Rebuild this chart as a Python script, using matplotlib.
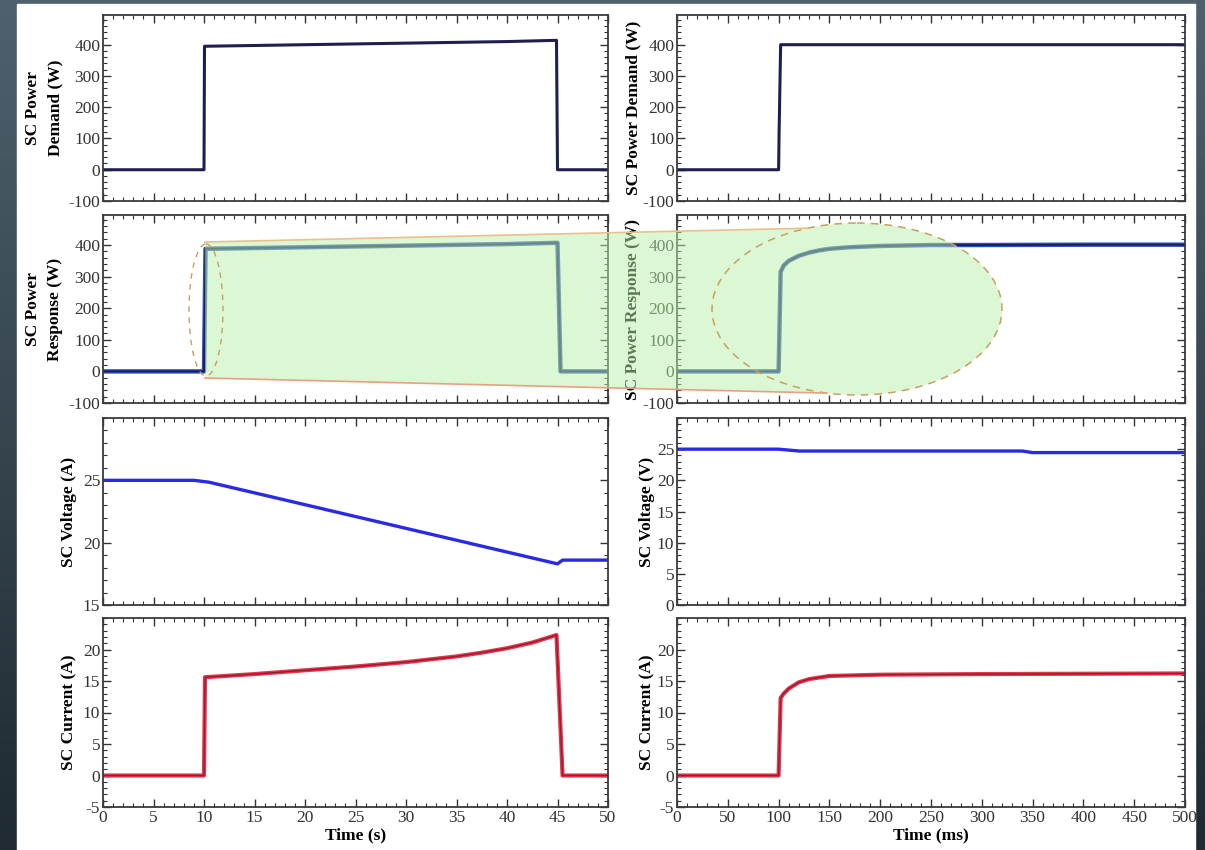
import matplotlib
matplotlib.use("Agg")
import matplotlib.pyplot as plt
import numpy as np
from matplotlib.patches import Ellipse, Polygon, Rectangle
from matplotlib.ticker import MultipleLocator

plt.rcParams["font.family"] = ["Liberation Serif", "DejaVu Serif"]
plt.rcParams["axes.unicode_minus"] = False

# left column: long run, time in s
t_dem_s = [0, 10, 10.05, 20, 30, 40, 44.9, 45.0, 50]
p_dem_s = [0, 0, 395, 400, 405, 410, 414, 0, 0]

t_resp_s = [0, 10, 10.15, 20, 30, 40, 45.0, 45.3, 50]
p_resp_s = [0, 0, 388, 393, 398, 403, 407, 0, 0]

t_volt_s = [0, 9, 10.5, 45.0, 45.5, 50]
v_volt_s = [25, 25, 24.85, 18.3, 18.6, 18.6]

t_curr_s = [0, 10, 10.1, 15, 20, 25, 30, 35, 37.5, 40, 42.5, 44.9, 45.5, 50]
i_curr_s = [0, 0, 15.6, 16.1, 16.7, 17.3, 18.0, 18.9, 19.5, 20.2, 21.1, 22.3, 0, 0]

# right column: zoom on the step, time in ms
t_dem_ms = [0, 100, 100.5, 102, 500]
p_dem_ms = [0, 0, 120, 400, 400]

t_resp_ms = [0, 100, 102, 105, 110, 120, 130, 140, 150, 170, 200, 250, 300, 400, 500]
p_resp_ms = [0, 0, 315, 335, 350, 366, 376, 383, 388, 393, 397, 400, 400, 401, 401]

t_volt_ms = [0, 100, 120, 340, 350, 500]
v_volt_ms = [25, 25, 24.7, 24.7, 24.45, 24.45]

t_curr_ms = [0, 100, 102, 105, 110, 120, 130, 150, 200, 300, 500]
i_curr_ms = [0, 0, 12.3, 13.0, 13.8, 14.8, 15.3, 15.8, 16.0, 16.1, 16.2]

W, H = 1205, 850
fig = plt.figure(figsize=(W / 100, H / 100), dpi=100)

# slide background
bg = fig.add_axes([0, 0, 1, 1], zorder=-5)
grad = np.linspace(0, 1, 256).reshape(-1, 1)
bg.imshow(grad, extent=[0, W, H, 0], aspect="auto",
          cmap=matplotlib.colors.LinearSegmentedColormap.from_list("s", ["#4e616d", "#1f2a31"]))
bg.add_patch(Rectangle((17, 4), 1178, 846, color="white"))
bg.set_xlim(0, W)
bg.set_ylim(H, 0)
bg.axis("off")


def px_axes(x0, x1, y0, y1):
    return fig.add_axes([x0 / W, 1 - y1 / H, (x1 - x0) / W, (y1 - y0) / H])


rows = [(15, 201), (215, 403), (418, 605), (618, 807)]
cols = [(103, 608), (677, 1185)]

left_labels = ["SC Power\nDemand (W)", "SC Power\nResponse (W)", "SC Voltage (A)", "SC Current (A)"]
right_labels = ["SC Power Demand (W)", "SC Power Response (W)", "SC Voltage (V)", "SC Current (A)"]

navy = "#1e1f4f"
blue = "#2f4fc8"
vblue = "#2a2ae6"
red = "#e23848"
dred = "#9a1838"


def style(ax, xmax, xmaj, ylim, yticks, yminor):
    ax.set_xlim(0, xmax)
    ax.set_ylim(*ylim)
    ax.set_xticks(np.arange(0, xmax + 1, xmaj))
    ax.xaxis.set_minor_locator(MultipleLocator(xmaj / 5))
    ax.set_yticks(yticks)
    ax.yaxis.set_minor_locator(MultipleLocator(yminor))
    ax.tick_params(which="both", direction="in", top=True, right=True, labelsize=12.5,
                   colors="#333333", pad=2)
    ax.tick_params(which="major", length=6, width=1)
    ax.tick_params(which="minor", length=3, width=0.8)
    for s in ax.spines.values():
        s.set_linewidth(1.3)
        s.set_color("#3a3a3a")


axes = [[px_axes(c[0], c[1], r[0], r[1]) for c in cols] for r in rows]

# left column
ax = axes[0][0]
ax.plot(t_dem_s, p_dem_s, color=navy, lw=2.2)
style(ax, 50, 5, (-100, 495), [-100, 0, 100, 200, 300, 400], 20)
ax = axes[1][0]
ax.plot(t_resp_s, p_resp_s, color=blue, lw=3.2)
ax.plot(t_resp_s, p_resp_s, color=navy, lw=1.4)
style(ax, 50, 5, (-100, 495), [-100, 0, 100, 200, 300, 400], 20)
ax = axes[2][0]
ax.plot(t_volt_s, v_volt_s, color=vblue, lw=2.4)
style(ax, 50, 5, (15, 30), [15, 20, 25], 1)
ax = axes[3][0]
ax.plot(t_curr_s, i_curr_s, color=red, lw=3)
ax.plot(t_curr_s, i_curr_s, color=dred, lw=1)
style(ax, 50, 5, (-5, 25), [-5, 0, 5, 10, 15, 20], 1)

# right column
ax = axes[0][1]
ax.plot(t_dem_ms, p_dem_ms, color=navy, lw=2.2)
style(ax, 500, 50, (-100, 495), [-100, 0, 100, 200, 300, 400], 20)
ax = axes[1][1]
ax.plot(t_resp_ms, p_resp_ms, color=blue, lw=3.2)
ax.plot(t_resp_ms, p_resp_ms, color=navy, lw=1.4)
style(ax, 500, 50, (-100, 495), [-100, 0, 100, 200, 300, 400], 20)
ax = axes[2][1]
ax.plot(t_volt_ms, v_volt_ms, color=vblue, lw=2.4)
style(ax, 500, 50, (0, 30), [0, 5, 10, 15, 20, 25], 1)
ax = axes[3][1]
ax.plot(t_curr_ms, i_curr_ms, color=red, lw=3)
ax.plot(t_curr_ms, i_curr_ms, color=dred, lw=1)
style(ax, 500, 50, (-5, 25), [-5, 0, 5, 10, 15, 20], 1)

for i in range(4):
    axes[i][0].set_ylabel(left_labels[i], fontsize=12.5, fontweight="bold", labelpad=4, linespacing=1.5)
    axes[i][1].set_ylabel(right_labels[i], fontsize=12.5, fontweight="bold", labelpad=1)
    if i < 3:
        axes[i][0].set_xticklabels([])
        axes[i][1].set_xticklabels([])

axes[3][0].set_xlabel("Time (s)", fontsize=12.5, fontweight="bold", labelpad=1)
axes[3][1].set_xlabel("Time (ms)", fontsize=12.5, fontweight="bold", labelpad=1)

# green call-out drawn over the response panels
ov = fig.add_axes([0, 0, 1, 1], zorder=10)
ov.set_xlim(0, W)
ov.set_ylim(H, 0)
ov.axis("off")
cx, cy, a, b = 857, 309, 145, 86
th = np.radians(np.linspace(-110, 102, 120))
arc = np.column_stack([cx + a * np.cos(th), cy + b * np.sin(th)])
outline = np.vstack([[(205, 242)], arc, [(205, 378)]])
ov.add_patch(Polygon(outline, closed=True, facecolor=(0.72, 0.94, 0.66), edgecolor="none", alpha=0.5))
ov.add_patch(Ellipse((cx, cy), 2 * a, 2 * b, facecolor="none", edgecolor="#c8a060",
                     lw=1.1, ls=(0, (5, 4))))
ov.add_patch(Ellipse((206, 310), 34, 132, facecolor="none", edgecolor="#c8a060",
                     lw=1.0, ls=(0, (4, 4))))
ov.plot([205, arc[0, 0]], [242, arc[0, 1]], color="#eac08c", lw=1.2)
ov.plot([205, arc[-1, 0]], [378, arc[-1, 1]], color="#eaa080", lw=1.2)

fig.savefig("out.png", dpi=100)
